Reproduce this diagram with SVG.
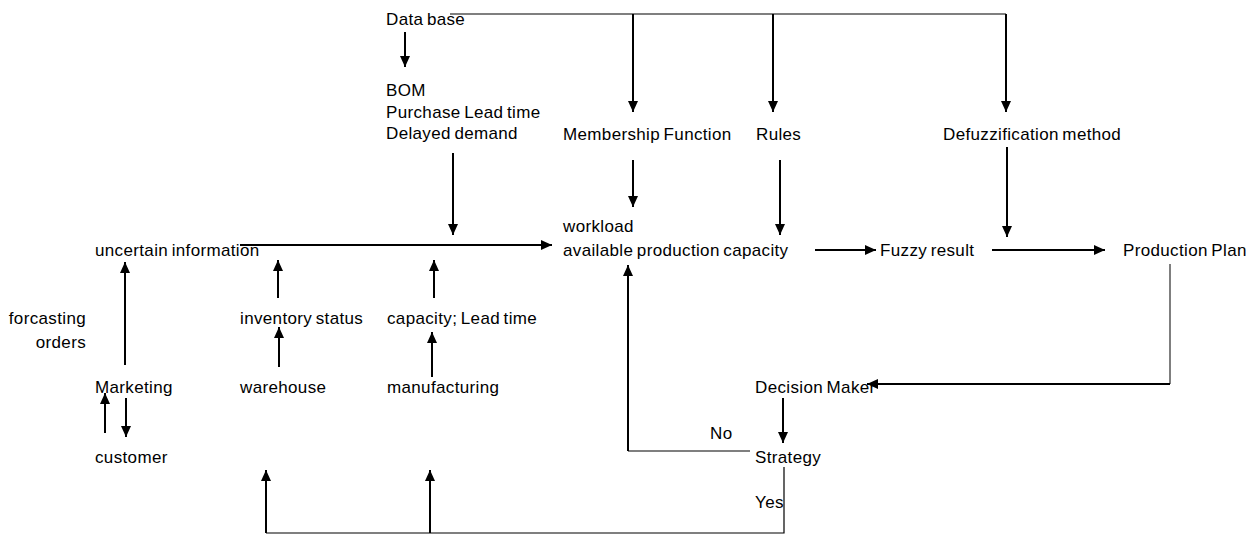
<svg xmlns="http://www.w3.org/2000/svg" width="1253" height="536" viewBox="0 0 1253 536">
  <style>
    text { font-family: "Liberation Sans", Arial, sans-serif; font-size: 17px; letter-spacing: 0.35px; word-spacing: -1.5px; fill: #000; }
    .r { text-anchor: end; }
    .w { fill: none; stroke: #000; stroke-width: 2; }
    .t { fill: none; stroke: #000; stroke-width: 1.2; }
    .g { fill: none; stroke: #555; stroke-width: 1.5; }
  </style>
  <defs>
    <marker id="ah" markerUnits="userSpaceOnUse" markerWidth="11" markerHeight="10" refX="11" refY="5" orient="auto">
      <path d="M0,0 L11,5 L0,10 z" fill="#000"/>
    </marker>
  </defs>
  <rect width="1253" height="536" fill="#fff"/>

  <g id="connectors">
    <!-- database bus and its drops -->
    <path class="w" d="M405,32 V67" marker-end="url(#ah)"/>
    <path class="t" d="M450,14 H1006"/>
    <path class="w" d="M633,14 V112" marker-end="url(#ah)"/>
    <path class="w" d="M773,14 V112" marker-end="url(#ah)"/>
    <path class="w" d="M1006,14 V112" marker-end="url(#ah)"/>
    <!-- inputs into the fuzzy model -->
    <path class="w" d="M633,160 V207" marker-end="url(#ah)"/>
    <path class="w" d="M780,160 V235" marker-end="url(#ah)"/>
    <path class="w" d="M1007,147 V237" marker-end="url(#ah)"/>
    <path class="w" d="M453,153 V235" marker-end="url(#ah)"/>
    <path class="w" d="M240,245 H552" marker-end="url(#ah)"/>
    <!-- information sources -->
    <path class="w" d="M278,298 V260" marker-end="url(#ah)"/>
    <path class="w" d="M434,298 V260" marker-end="url(#ah)"/>
    <path class="w" d="M279,367 V327" marker-end="url(#ah)"/>
    <path class="w" d="M432,377 V332" marker-end="url(#ah)"/>
    <path class="w" d="M125,365 V262" marker-end="url(#ah)"/>
    <path class="w" d="M105,433 V393" marker-end="url(#ah)"/>
    <path class="w" d="M126,398 V437" marker-end="url(#ah)"/>
    <!-- fuzzy pipeline -->
    <path class="w" d="M815,250 H876" marker-end="url(#ah)"/>
    <path class="w" d="M992,250 H1105" marker-end="url(#ah)"/>
    <path class="g" d="M1170,264 V384"/>
    <path class="w" d="M1170,384 H867" marker-end="url(#ah)"/>
    <path class="w" d="M783,398 V443" marker-end="url(#ah)"/>
    <!-- strategy feedback -->
    <path class="t" d="M750,451 H628"/>
    <path class="w" d="M628,451 V265" marker-end="url(#ah)"/>
    <path class="t" d="M784,467 V533 H266"/>
    <path class="w" d="M266,533 V470" marker-end="url(#ah)"/>
    <path class="w" d="M430,533 V470" marker-end="url(#ah)"/>
  </g>

  <g id="database"><text x="386" y="25">Data base</text></g>
  <g id="bom">
    <text x="386" y="96">BOM</text>
    <text x="386" y="117.5">Purchase Lead time</text>
    <text x="386" y="139">Delayed demand</text>
  </g>
  <g id="membership"><text x="563" y="140">Membership Function</text></g>
  <g id="rules"><text x="756" y="140">Rules</text></g>
  <g id="defuzz"><text x="943" y="140">Defuzzification method</text></g>
  <g id="workload">
    <text x="563" y="232">workload</text>
    <text x="563" y="256">available production capacity</text>
  </g>
  <g id="uncertain"><text x="95" y="256">uncertain information</text></g>
  <g id="fuzzy"><text x="880" y="256">Fuzzy result</text></g>
  <g id="plan"><text x="1123" y="256">Production Plan</text></g>
  <g id="forecast">
    <text class="r" x="86" y="324">forcasting</text>
    <text class="r" x="86" y="348">orders</text>
  </g>
  <g id="inventory"><text x="240" y="324">inventory status</text></g>
  <g id="capacity"><text x="387" y="324">capacity; Lead time</text></g>
  <g id="marketing"><text x="95" y="393">Marketing</text></g>
  <g id="warehouse"><text x="240" y="393">warehouse</text></g>
  <g id="manufacturing"><text x="387" y="393">manufacturing</text></g>
  <g id="customer"><text x="95" y="463">customer</text></g>
  <g id="decision"><text x="755" y="393">Decision Maker</text></g>
  <g id="strategy">
    <text x="755" y="463">Strategy</text>
    <text x="710" y="439">No</text>
    <text x="755" y="508">Yes</text>
  </g>
</svg>
